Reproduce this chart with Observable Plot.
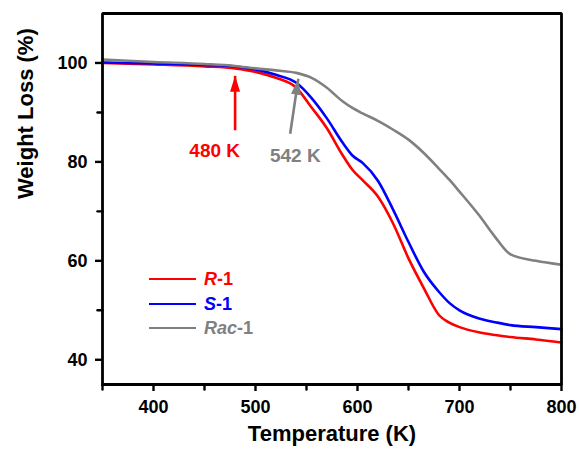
<!DOCTYPE html>
<html>
<head>
<meta charset="utf-8">
<script src="https://cdn.jsdelivr.net/npm/d3@7"></script>
<script src="https://cdn.jsdelivr.net/npm/@observablehq/plot@0.6"></script>
<style>
  html, body { margin: 0; padding: 0; background: #fff; }
  #wrap { position: relative; width: 579px; height: 455px; font-family: "Liberation Sans", Arial, sans-serif; }
  #legend { position: absolute; left: 149px; top: 267px; font-weight: bold; font-size: 18px; line-height: 24.5px; }
  .row { display: flex; align-items: center; height: 24.5px; }
  .sw { width: 47px; height: 0; border-top: 2.6px solid; margin-right: 8px; }
</style>
</head>
<body>
<div id="wrap"><div id="legend"></div></div>
<script>
// Temperature grid (K)
const temps = [350, 400, 450, 480, 500, 520, 540, 555, 570, 585, 595, 605, 620, 635, 650, 665, 680, 690, 700, 720, 735, 750, 775, 800];
// Weight (%) for each compound
const wR   = [100.0, 99.7, 99.3, 98.9, 98.2, 97.0, 95.0, 91.0, 86.8, 81.5, 78.4, 76.3, 73.0, 67.5, 60.5, 54.5, 49.0, 47.5, 46.6, 45.5, 45.0, 44.6, 44.1, 43.5];
const wS   = [100.1, 99.9, 99.6, 99.3, 98.7, 97.6, 96.0, 92.9, 88.8, 84.0, 81.3, 79.8, 76.2, 70.3, 63.8, 57.8, 53.7, 51.5, 50.0, 48.3, 47.6, 47.0, 46.6, 46.2];
const wRac = [100.7, 100.2, 99.8, 99.4, 98.9, 98.5, 98.0, 97.0, 95.0, 92.3, 90.9, 89.8, 88.3, 86.5, 84.5, 81.8, 78.6, 76.4, 74.0, 69.0, 64.8, 61.3, 60.0, 59.2];
const seriesNames = ["R-1", "S-1", "Rac-1"];
const seriesItalic = ["R", "S", "Rac"];
const seriesColors = ["#ff0000", "#0000ff", "#808080"];
const seriesValues = [wR, wS, wRac];

const xDomain = [350, 800];
const yDomain = [35, 110];
const xTicks = [400, 500, 600, 700, 800];
const xMinor = [350, 450, 550, 650, 750];
const yTicks = [40, 60, 80, 100];
const yMinor = [50, 70, 90];

// Annotations: onset temperatures
const annLabels = ["480 K", "542 K"];
const annColors = ["#ff0000", "#808080"];
const annTipT = [480, 542];
const annTipW = [97.4, 96.8];
const annTailT = [480, 534];
const annTailW = [86.4, 85.7];
const annTextT = [460, 539];
const annTextW = [82.3, 81.3];
const annRotate = [0, 8.6];

const rows = [];
seriesNames.forEach((name, i) => temps.forEach((t, j) => rows.push({series: name, T: t, W: seriesValues[i][j]})));
const anns = annLabels.map((l, i) => ({label: l, color: annColors[i], x1: annTailT[i], y1: annTailW[i], x2: annTipT[i], y2: annTipW[i], tx: annTextT[i], ty: annTextW[i], rot: annRotate[i]}));
// Frame outline built from the domains
const box = [[xDomain[0], yDomain[0]], [xDomain[1], yDomain[0]], [xDomain[1], yDomain[1]], [xDomain[0], yDomain[1]], [xDomain[0], yDomain[0]]];

const headSymbol = { draw(ctx) { ctx.moveTo(0, 0); ctx.lineTo(-5, 16); ctx.lineTo(5, 16); ctx.closePath(); } };
const tickShape = { draw(ctx, l) { ctx.moveTo(0, 0); ctx.lineTo(0, -l); } };

const font = "Liberation Sans, Arial, sans-serif";
const chart = Plot.plot({
  width: 579, height: 455,
  marginLeft: 102, marginRight: 18, marginTop: 13, marginBottom: 71,
  style: {fontFamily: font, fontWeight: "bold"},
  x: {domain: xDomain},
  y: {domain: yDomain},
  color: {domain: seriesNames, range: seriesColors},
  marks: [
    Plot.line(rows, {x: "T", y: "W", z: "series", stroke: "series", strokeWidth: 2.6, curve: "monotone-x"}),
    Plot.link(anns, {x1: "x1", y1: "y1", x2: "x2", y2: "y2", stroke: d => d.color, strokeWidth: 2.6}),
    Plot.dot(anns, {x: "x2", y: "y2", symbol: headSymbol, fill: d => d.color, stroke: "none", rotate: "rot", r: 5}),
    Plot.text(anns, {x: "tx", y: "ty", text: "label", fill: d => d.color, fontSize: 19, fontWeight: "bold"}),
    Plot.axisX({ticks: xTicks, tickSize: 7, tickPadding: 9, fontSize: 18, fontWeight: "bold", label: null, stroke: "#000", strokeWidth: 2.4}),
    Plot.axisY({ticks: yTicks, tickSize: 7, tickPadding: 8, fontSize: 18, fontWeight: "bold", label: null, stroke: "#000", strokeWidth: 2.4}),
    Plot.vector(xMinor, {x: d => d, y: () => yDomain[0], length: 5, rotate: 180, anchor: "start", shape: tickShape, stroke: "#000", strokeWidth: 2.4}),
    Plot.vector(yMinor, {x: () => xDomain[0], y: d => d, length: 5, rotate: 270, anchor: "start", shape: tickShape, stroke: "#000", strokeWidth: 2.4}),
    Plot.text(["Temperature (K)"], {frameAnchor: "bottom", dy: 56, fontSize: 22, fontWeight: "bold"}),
    Plot.text(["Weight Loss (%)"], {frameAnchor: "left", dx: -77, rotate: -90, fontSize: 22, fontWeight: "bold"}),
    Plot.line(box, {x: d => d[0], y: d => d[1], stroke: "#000", strokeWidth: 2.8, strokeLinejoin: "miter", strokeLinecap: "square"})
  ]
});
document.getElementById("wrap").prepend(chart);

const legend = document.getElementById("legend");
seriesNames.forEach((name, i) => {
  const row = document.createElement("div");
  row.className = "row";
  const sw = document.createElement("div");
  sw.className = "sw";
  sw.style.borderTopColor = seriesColors[i];
  const label = document.createElement("span");
  label.style.color = seriesColors[i];
  const it = document.createElement("i");
  it.textContent = seriesItalic[i];
  label.appendChild(it);
  label.appendChild(document.createTextNode(name.slice(seriesItalic[i].length)));
  row.appendChild(sw);
  row.appendChild(label);
  legend.appendChild(row);
});
</script>
</body>
</html>
